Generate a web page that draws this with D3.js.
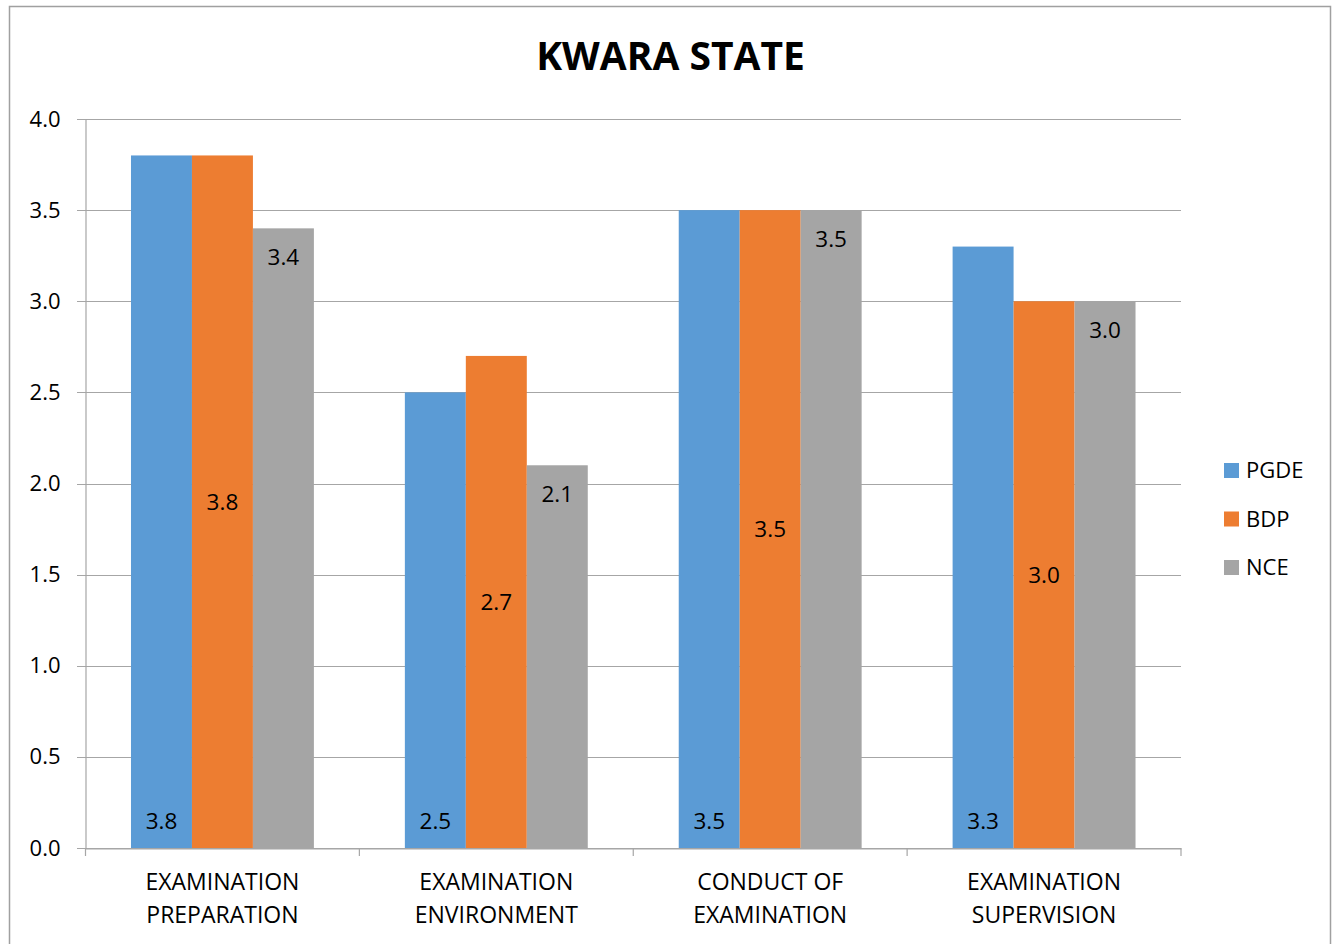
<!DOCTYPE html>
<html>
<head>
<meta charset="utf-8">
<script src="https://cdn.jsdelivr.net/npm/d3@7"></script>
<style>
  body { margin: 0; background: #fff; }
  text { font-family: "Open Sans", sans-serif; }
</style>
</head>
<body>
<svg id="chart" width="1335" height="944"></svg>
<script>
const categories = [["EXAMINATION", "PREPARATION"], ["EXAMINATION", "ENVIRONMENT"], ["CONDUCT OF", "EXAMINATION"], ["EXAMINATION", "SUPERVISION"]];
const seriesNames = ["PGDE", "BDP", "NCE"];
const pgde = [3.8, 2.5, 3.5, 3.3];
const bdp = [3.8, 2.7, 3.5, 3.0];
const nce = [3.4, 2.1, 3.5, 3.0];
const yTicks = [0, 0.5, 1.0, 1.5, 2.0, 2.5, 3.0, 3.5, 4.0];
const colors = ["#5B9BD5", "#ED7D31", "#A5A5A5"];
const title = "KWARA STATE";

const values = [pgde, bdp, nce];
const svg = d3.select("#chart");
const FONT = '"Open Sans", sans-serif';

// outer border
svg.append("rect").attr("x", 9.5).attr("y", 6.5).attr("width", 1321).attr("height", 960)
  .attr("fill", "none").attr("stroke", "#a0a0a0").attr("stroke-width", 1.5);

const pLeft = 85.5, pRight = 1181, pTop = 119, pBottom = 848;
const x0 = d3.scaleBand().domain(d3.range(categories.length)).range([pLeft, pRight]).padding(0);
const x1 = d3.scaleBand().domain(seriesNames).range([0, x0.bandwidth()]).paddingInner(0).paddingOuter(0.746);
const y = d3.scaleLinear().domain([0, 4]).range([pBottom, pTop]);

// title
svg.append("text").attr("x", 670.5).attr("y", 70).attr("text-anchor", "middle")
  .attr("font-size", 39).attr("font-weight", "bold").attr("fill", "#000").text(title);

// gridlines
svg.append("g").selectAll("line").data(yTicks).join("line")
  .attr("x1", 77).attr("x2", pRight).attr("y1", d => Math.round(y(d)) + 0.5).attr("y2", d => Math.round(y(d)) + 0.5)
  .attr("stroke", "#a6a6a6").attr("stroke-width", 1.2);

// y axis
const yAxis = svg.append("g").attr("transform", `translate(${pLeft},0)`)
  .call(d3.axisLeft(y).tickValues(yTicks).tickFormat(d3.format(".1f")).tickSize(0).tickPadding(25));
yAxis.select(".domain").attr("stroke", "#a6a6a6").attr("stroke-width", 1.2);
yAxis.selectAll("text").attr("font-size", 22).attr("fill", "#000").attr("font-family", FONT);

// bars
const groups = svg.append("g").selectAll("g").data(categories).join("g")
  .attr("transform", (d, i) => `translate(${x0(i)},0)`);
seriesNames.forEach((s, si) => {
  groups.append("rect")
    .attr("x", x1(s)).attr("width", x1.bandwidth())
    .attr("y", (d, i) => y(values[si][i])).attr("height", (d, i) => y(0) - y(values[si][i]))
    .attr("fill", colors[si]);
});

// data labels
seriesNames.forEach((s, si) => {
  groups.append("text")
    .attr("x", x1(s) + x1.bandwidth() / 2)
    .attr("y", (d, i) => {
      const v = values[si][i];
      if (si === 0) return y(0) - 27;
      if (si === 1) return (y(v) + y(0)) / 2;
      return y(v) + 29;
    })
    .attr("dy", "0.35em")
    .attr("text-anchor", "middle").attr("font-size", 22.5).attr("fill", "#000")
    .text((d, i) => d3.format(".1f")(values[si][i]));
});

// x axis
const xAxis = svg.append("g").attr("transform", `translate(0,${pBottom + 0.5})`)
  .call(d3.axisBottom(x0).tickValues([]).tickSize(0));
xAxis.select(".domain").attr("stroke", "#a6a6a6").attr("stroke-width", 1.2);
svg.append("g").selectAll("line").data(d3.range(categories.length + 1)).join("line")
  .attr("x1", i => i < categories.length ? x0(i) : pRight).attr("x2", i => i < categories.length ? x0(i) : pRight)
  .attr("y1", pBottom).attr("y2", pBottom + 8).attr("stroke", "#a6a6a6").attr("stroke-width", 1.2);

// category labels
const cl = svg.append("g").selectAll("text").data(categories).join("text")
  .attr("text-anchor", "middle").attr("font-size", 23).attr("fill", "#000");
cl.each(function(d, i) {
  const t = d3.select(this);
  d.forEach((line, li) => {
    t.append("tspan").attr("x", x0(i) + x0.bandwidth() / 2).attr("y", 890 + li * 33).text(line);
  });
});

// legend
const legend = svg.append("g").selectAll("g").data(seriesNames).join("g")
  .attr("transform", (d, i) => `translate(1224,${463 + i * 48.5})`);
legend.append("rect").attr("width", 15).attr("height", 15).attr("fill", (d, i) => colors[i]);
legend.append("text").attr("x", 22).attr("y", 7.5).attr("dy", "0.35em")
  .attr("font-size", 22).attr("fill", "#000").text(d => d);
</script>
</body>
</html>
